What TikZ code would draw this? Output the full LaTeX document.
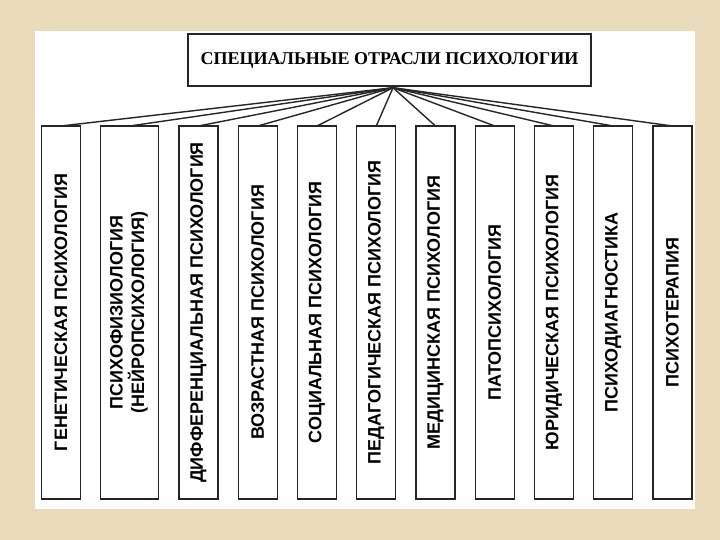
\documentclass[tikz,border=0pt]{standalone}
\usepackage{fontspec}
\setmainfont{Liberation Serif}
\newfontfamily\branchfont{Liberation Sans}
\usetikzlibrary{matrix,positioning}
\definecolor{parchment}{RGB}{234,220,186}
\newcommand{\vlabel}[1]{\rotatebox{90}{#1}}

\begin{document}
\begin{tikzpicture}[
     x=1pt, y=-1pt,
     % define styles
     head/.style={
         draw=black!85, line width=1.4pt, fill=white,
         minimum width=403pt, minimum height=52pt,
         font=\fontsize{18}{20}\selectfont\bfseries
     },
     branches/.style={
         matrix of nodes,
         nodes={ draw=black!85, line width=1.4pt, fill=white, anchor=center,
                 minimum width=39pt, minimum height=373pt,
                 inner sep=0pt, outer sep=0pt,
                 font=\branchfont\fontsize{18}{17.5}\selectfont\bfseries },
         column sep=18.85pt
     },
     wide/.style={minimum width=58pt},
     link/.style={draw=black!85, line width=1.4pt}
]
% page and white sheet
\fill[parchment] (0,0) rectangle (720,540);
\fill[white] (35,31) rectangle (695,509);
\useasboundingbox (0,0) rectangle (720,540);

% heading box
\node[head] (head) at (389.5,60) {СПЕЦИАЛЬНЫЕ ОТРАСЛИ ПСИХОЛОГИИ};
\coordinate (hub) at ([xshift=3.5pt,yshift=-1pt]head.south);

% define matrix mat to hold the branches
\matrix[branches] (mat) at (366.75,312.5)
{
\vlabel{ГЕНЕТИЧЕСКАЯ ПСИХОЛОГИЯ}
	& |[wide]| \vlabel{\begin{tabular}{@{}c@{}}ПСИХОФИЗИОЛОГИЯ\\(НЕЙРОПСИХОЛОГИЯ)\end{tabular}}
	& \vlabel{ДИФФЕРЕНЦИАЛЬНАЯ ПСИХОЛОГИЯ}
	& \vlabel{ВОЗРАСТНАЯ ПСИХОЛОГИЯ}
	& \vlabel{СОЦИАЛЬНАЯ ПСИХОЛОГИЯ}
	& \vlabel{ПЕДАГОГИЧЕСКАЯ ПСИХОЛОГИЯ}
	& \vlabel{МЕДИЦИНСКАЯ ПСИХОЛОГИЯ}
	& \vlabel{ПАТОПСИХОЛОГИЯ}
	& \vlabel{ЮРИДИЧЕСКАЯ ПСИХОЛОГИЯ}
	& \vlabel{ПСИХОДИАГНОСТИКА}
	& \vlabel{ПСИХОТЕРАПИЯ} \\
};

% fan of links from the heading
\draw[link] (hub) -- (mat-1-1.north);
\draw[link] (hub) -- (mat-1-2.north);
\draw[link] (hub) -- (mat-1-3.north);
\draw[link] (hub) -- (mat-1-4.north);
\draw[link] (hub) -- (mat-1-5.north);
\draw[link] (hub) -- (mat-1-6.north);
\draw[link] (hub) -- (mat-1-7.north);
\draw[link] (hub) -- (mat-1-8.north);
\draw[link] (hub) -- (mat-1-9.north);
\draw[link] (hub) -- (mat-1-10.north);
\draw[link] (hub) -- (mat-1-11.north);

\end{tikzpicture}
\end{document}
